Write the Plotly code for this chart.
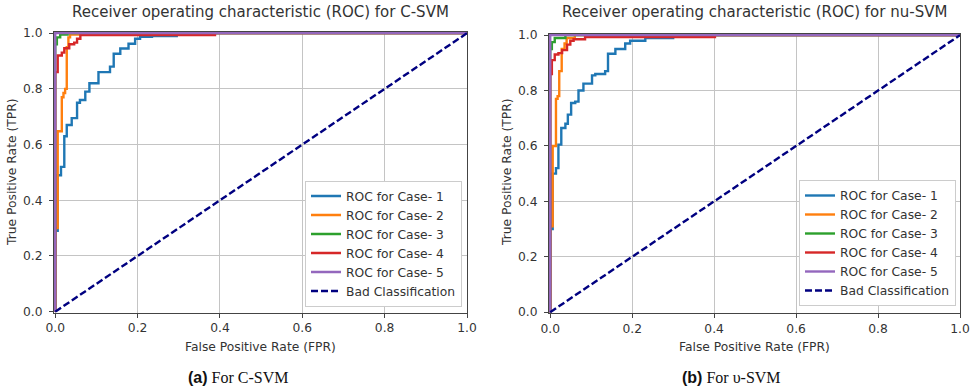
import plotly.graph_objects as go

# ---------------- data ----------------
case_names = ["ROC for Case- 1", "ROC for Case- 2", "ROC for Case- 3",
              "ROC for Case- 4", "ROC for Case- 5"]
bad_name = "Bad Classification"

# C-SVM ROC step corners (fpr, tpr)
c_fpr_1 = [0, 0, 0.006, 0.014, 0.022, 0.028, 0.040, 0.053, 0.060, 0.073, 0.083,
           0.105, 0.133, 0.142, 0.158, 0.178, 0.194, 0.206, 0.235, 0.295, 1.0]
c_tpr_1 = [0, 0.29, 0.49, 0.52, 0.63, 0.67, 0.695, 0.75, 0.76, 0.79, 0.82,
           0.86, 0.88, 0.926, 0.945, 0.962, 0.98, 0.987, 0.99, 1.0, 1.0]
c_fpr_2 = [0, 0, 0.006, 0.016, 0.020, 0.024, 0.028, 0.032, 0.036, 0.060, 1.0]
c_tpr_2 = [0, 0.30, 0.648, 0.77, 0.785, 0.80, 0.95, 0.985, 0.995, 1.0, 1.0]
c_fpr_3 = [0, 0, 0.004, 0.012, 0.030, 1.0]
c_tpr_3 = [0, 0.96, 0.985, 0.995, 1.0, 1.0]
c_fpr_4 = [0, 0, 0.006, 0.016, 0.022, 0.034, 0.046, 0.053, 0.061, 0.388, 1.0]
c_tpr_4 = [0, 0.86, 0.92, 0.93, 0.946, 0.96, 0.966, 0.98, 0.993, 1.0, 1.0]
c_fpr_5 = [0, 0, 1.0]
c_tpr_5 = [0, 1.0, 1.0]

# nu-SVM ROC step corners (fpr, tpr)
n_fpr_1 = [0, 0, 0.006, 0.014, 0.020, 0.027, 0.037, 0.043, 0.051, 0.061, 0.069,
           0.081, 0.102, 0.110, 0.134, 0.141, 0.159, 0.183, 0.195, 0.232, 0.300, 1.0]
n_tpr_1 = [0, 0.30, 0.50, 0.52, 0.605, 0.665, 0.68, 0.713, 0.755, 0.76, 0.80,
           0.825, 0.855, 0.86, 0.87, 0.933, 0.95, 0.97, 0.98, 0.99, 1.0, 1.0]
n_fpr_2 = [0, 0, 0.006, 0.014, 0.018, 0.022, 0.028, 0.035, 0.040, 0.060, 1.0]
n_tpr_2 = [0, 0.31, 0.60, 0.77, 0.78, 0.87, 0.95, 0.97, 0.99, 1.0, 1.0]
n_fpr_3 = [0, 0, 0.004, 0.011, 0.037, 1.0]
n_tpr_3 = [0, 0.95, 0.975, 0.99, 1.0, 1.0]
n_fpr_4 = [0, 0, 0.004, 0.011, 0.020, 0.029, 0.041, 0.049, 0.057, 0.085, 0.402, 1.0]
n_tpr_4 = [0, 0.86, 0.91, 0.93, 0.935, 0.946, 0.966, 0.98, 0.985, 0.993, 1.0, 1.0]
n_fpr_5 = [0, 0, 1.0]
n_tpr_5 = [0, 1.0, 1.0]

diag_x = [0, 1]
diag_y = [0, 1]

tick_vals = [0.0, 0.2, 0.4, 0.6, 0.8, 1.0]
tick_text = ["0.0", "0.2", "0.4", "0.6", "0.8", "1.0"]

titles = ["Receiver operating characteristic (ROC) for C-SVM",
          "Receiver operating characteristic (ROC) for nu-SVM"]
x_label = "False Positive Rate (FPR)"
y_label = "True Positive Rate (TPR)"
captions = ["(a)", "(b)"]
caption_rest = ["For C-SVM", "For \u03c5-SVM"]

# ---------------- styling ----------------
colors = ["#1f77b4", "#ff7f0e", "#2ca02c", "#d62728", "#9467bd"]
navy = "#000080"
W, H = 974, 390
FONT = "DejaVu Sans"
TXT = "#333333"
LW = 2.4
FS = 12.3


def fx(px):
    return px / W


def fy(py):
    return 1 - py / H


fig = go.Figure()

panels = [
    ([c_fpr_1, c_fpr_2, c_fpr_3, c_fpr_4, c_fpr_5],
     [c_tpr_1, c_tpr_2, c_tpr_3, c_tpr_4, c_tpr_5], "x", "y", "legend"),
    ([n_fpr_1, n_fpr_2, n_fpr_3, n_fpr_4, n_fpr_5],
     [n_tpr_1, n_tpr_2, n_tpr_3, n_tpr_4, n_tpr_5], "x2", "y2", "legend2"),
]

for fprs, tprs, xa, ya, lg in panels:
    for i in range(5):
        fig.add_trace(go.Scatter(
            x=fprs[i], y=tprs[i], mode="lines", line_shape="hv",
            line=dict(color=colors[i], width=LW), name=case_names[i],
            xaxis=xa, yaxis=ya, legend=lg))
    fig.add_trace(go.Scatter(
        x=diag_x, y=diag_y, mode="lines",
        line=dict(color=navy, width=LW, dash="7px,3px"), name=bad_name,
        xaxis=xa, yaxis=ya, legend=lg))

dom = {
    "L": dict(x=[fx(54), fx(467)], y=[fy(312.5), fy(31.5)]),
    "R": dict(x=[fx(549), fx(960)], y=[fy(313), fy(33.5)]),
}

axis_common = dict(
    showgrid=True, gridcolor="#c4c4c4", gridwidth=1, zeroline=False,
    showline=True, linecolor="#444444", linewidth=1, mirror=True,
    ticks="outside", ticklen=4, tickcolor="#444444", tickwidth=1,
    tickvals=tick_vals, ticktext=tick_text, automargin=False,
    tickfont=dict(family=FONT, size=FS, color=TXT),
)

legend_common = dict(xanchor="right", yanchor="bottom",
                     bgcolor="white", bordercolor="#cccccc", borderwidth=1,
                     font=dict(family=FONT, size=FS, color=TXT), itemwidth=30,
                     tracegroupgap=0)

fig.update_layout(
    width=W, height=H, margin=dict(l=0, r=0, t=0, b=0, autoexpand=False),
    paper_bgcolor="white", plot_bgcolor="white",
    xaxis=dict(domain=dom["L"]["x"], range=[-0.003, 1.0], anchor="y", **axis_common),
    yaxis=dict(domain=dom["L"]["y"], range=[-0.003, 1.006], anchor="x",
               ticklabelstandoff=4, **axis_common),
    xaxis2=dict(domain=dom["R"]["x"], range=[-0.003, 1.0], anchor="y2", **axis_common),
    yaxis2=dict(domain=dom["R"]["y"], range=[-0.003, 1.006], anchor="x2",
                ticklabelstandoff=4, **axis_common),
    legend=dict(x=fx(462), y=fy(306.5), **legend_common),
    legend2=dict(x=fx(956), y=fy(306), **legend_common),
    showlegend=True,
)

annotations = []
centers_x = [(54 + 467) / 2, (549 + 960) / 2]
for k in range(2):
    cx = centers_x[k]
    annotations.append(dict(text=titles[k], x=fx(cx), y=fy(12), xref="paper", yref="paper",
                            xanchor="center", yanchor="middle", showarrow=False,
                            font=dict(family=FONT, size=15, color=TXT)))
    annotations.append(dict(text=x_label, x=fx(cx), y=fy(347), xref="paper", yref="paper",
                            xanchor="center", yanchor="middle", showarrow=False,
                            font=dict(family=FONT, size=FS, color=TXT)))
    annotations.append(dict(text=y_label, x=fx([12, 507][k]), y=fy(172), xref="paper",
                            yref="paper", xanchor="center", yanchor="middle",
                            showarrow=False, textangle=-90,
                            font=dict(family=FONT, size=FS, color=TXT)))
    cap = ('<span style="font-family:Liberation Sans"><b>' + captions[k] +
           '</b></span> ' + caption_rest[k])
    annotations.append(dict(text=cap, x=fx([238, 731][k]), y=fy(377), xref="paper",
                            yref="paper", xanchor="center", yanchor="middle",
                            showarrow=False,
                            font=dict(family="Liberation Serif", size=16, color="#111111")))

fig.update_layout(annotations=annotations)
fig.write_html("out.html")
